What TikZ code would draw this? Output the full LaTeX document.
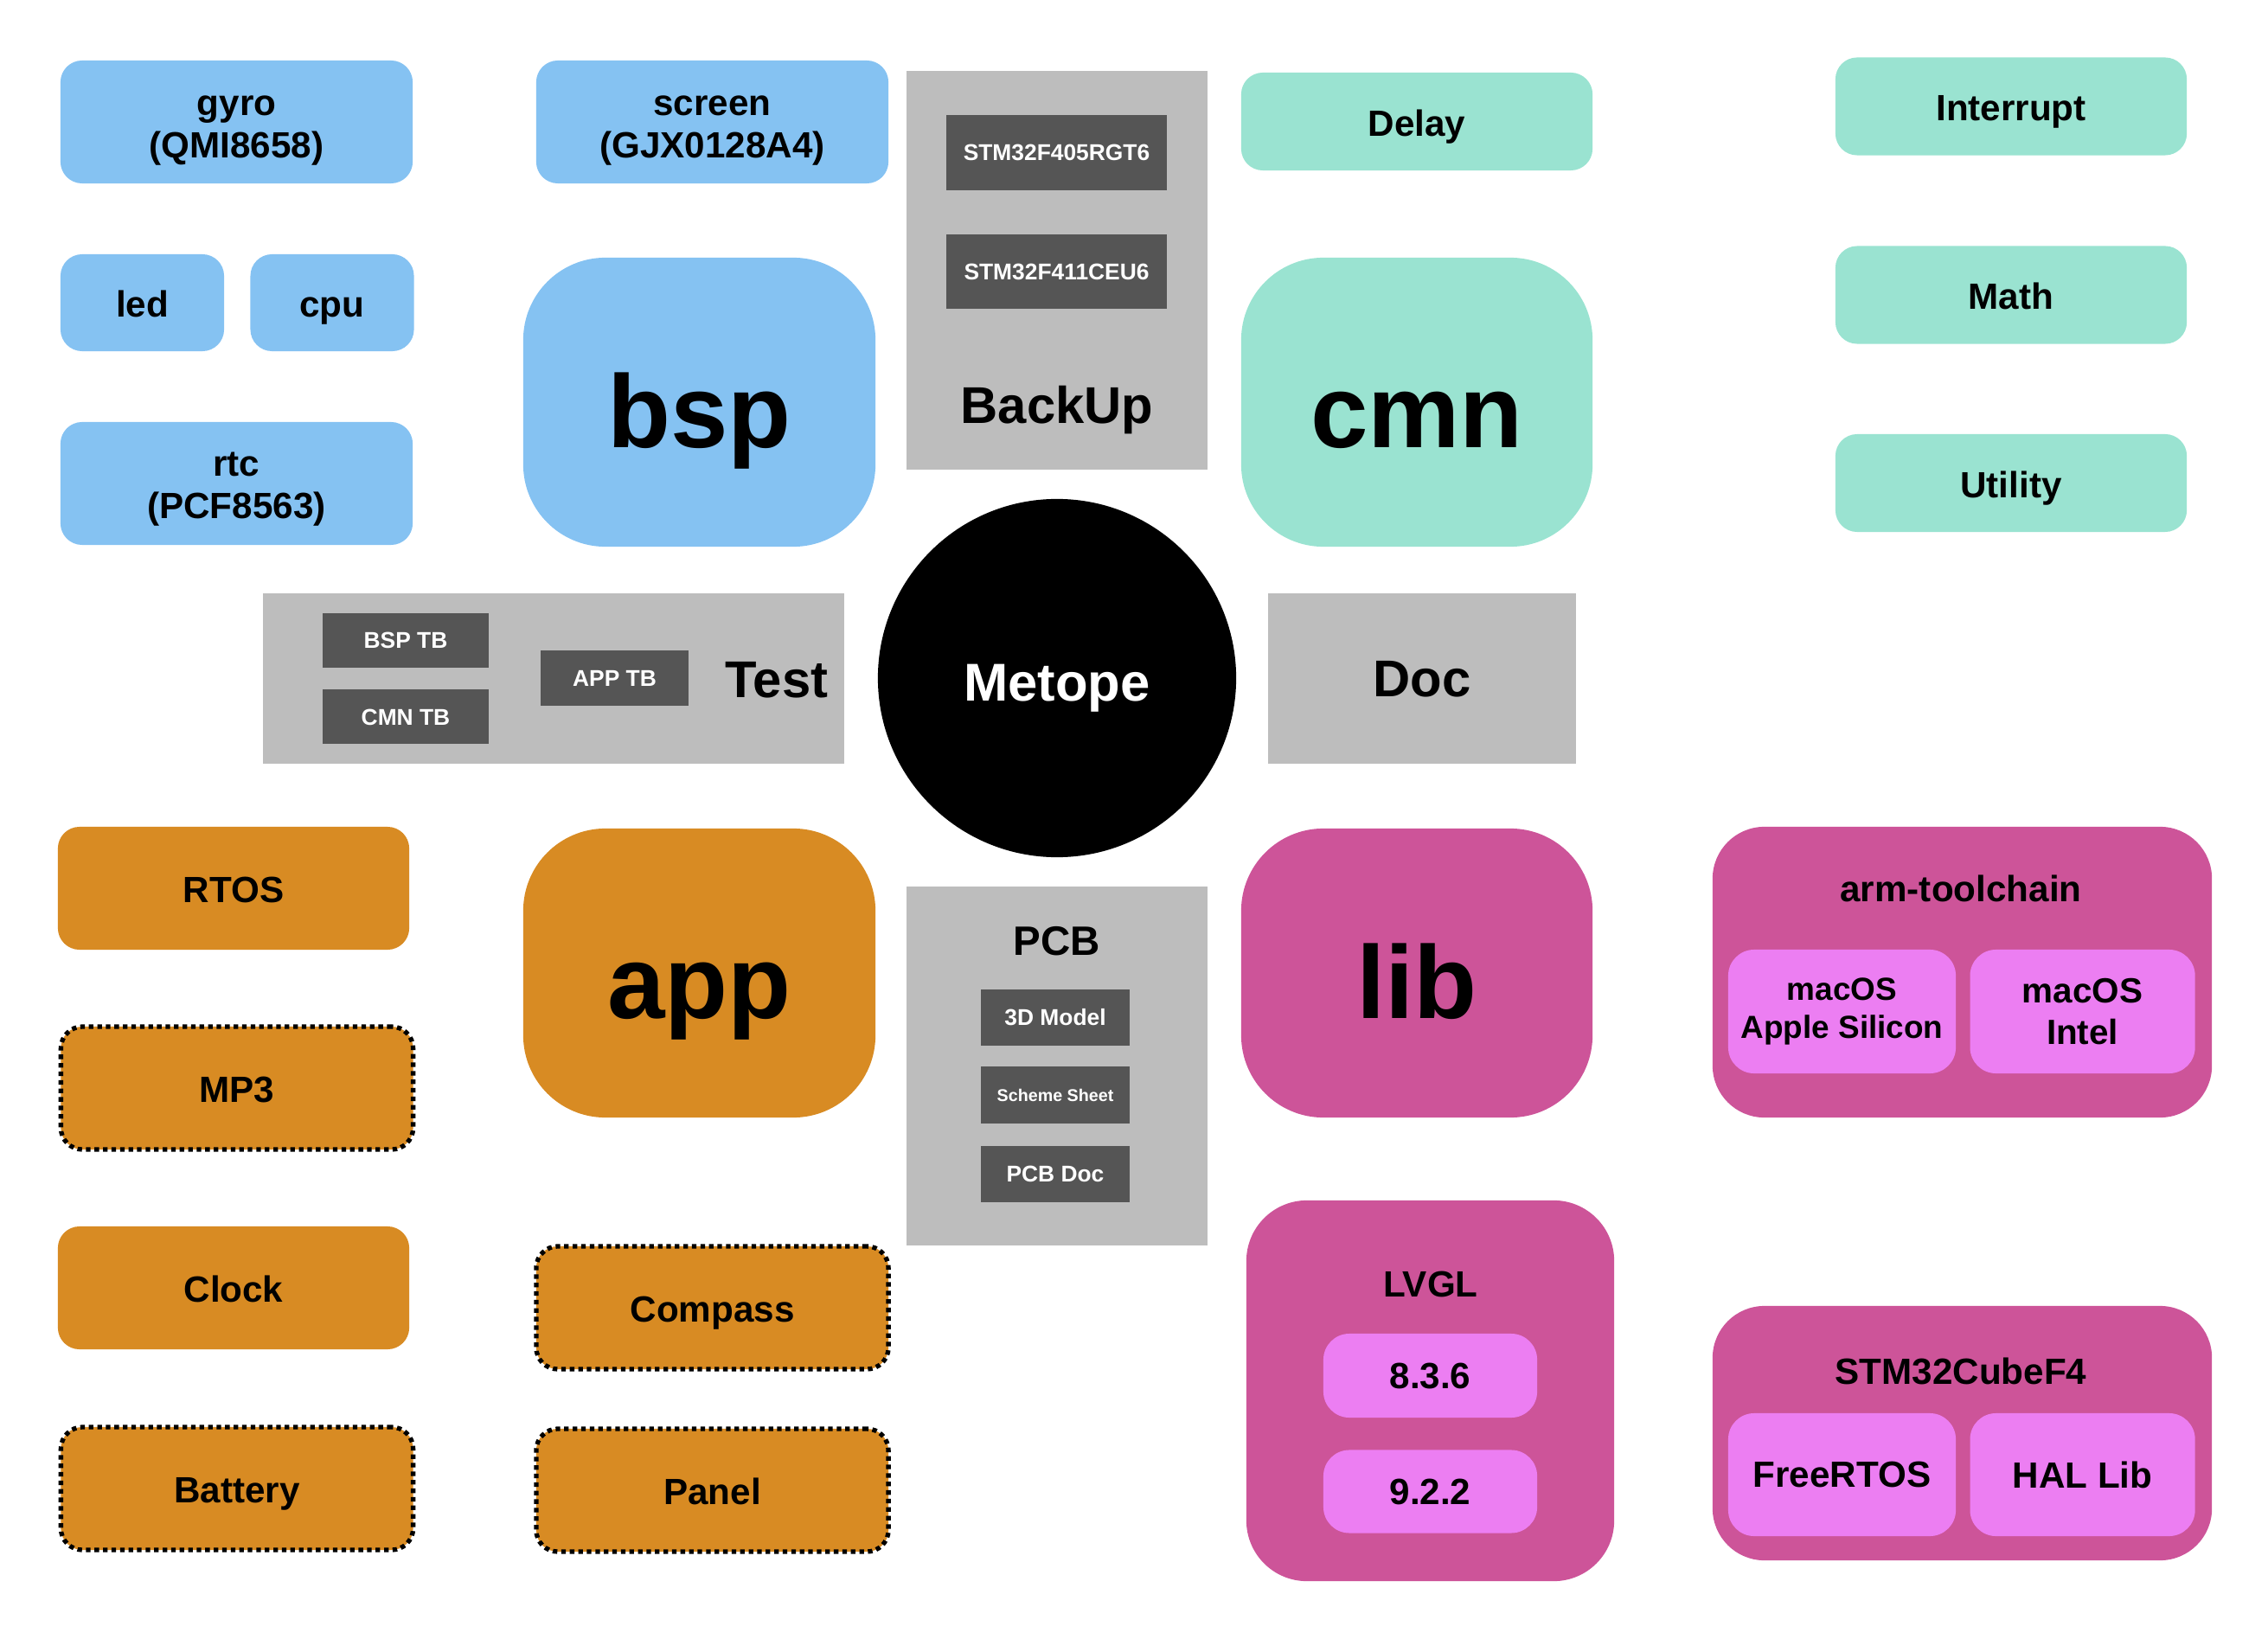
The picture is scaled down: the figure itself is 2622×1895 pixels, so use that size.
\documentclass[tikz,border=0pt]{standalone}
\usepackage{fontspec}
\setmainfont{Liberation Sans}
\usetikzlibrary{shapes,positioning}

\definecolor{bspblue}{HTML}{85C2F2}
\definecolor{cmngreen}{HTML}{9AE3D1}
\definecolor{apporange}{HTML}{D88B23}
\definecolor{libpink}{HTML}{CD5499}
\definecolor{subpink}{HTML}{EC7EF2}
\definecolor{boxgray}{HTML}{BDBDBD}
\definecolor{chipgray}{HTML}{555555}

\tikzset{
  smallbox/.style={rounded corners=0.25cm,minimum width=4.07cm,minimum height=1.42cm,align=center,font=\bfseries\fontsize{12}{14}\selectfont},
  oneline/.style={text height=9.5pt,text depth=0pt},
  bigbox/.style={rounded corners=0.95cm,minimum width=4.07cm,minimum height=3.34cm,text height=30pt,text depth=0pt,font=\bfseries\fontsize{34}{40}\selectfont},
  dotbox/.style={draw=black,line width=1.5pt,dash pattern=on 1.5pt off 1.3pt},
  graypanel/.style={fill=boxgray,inner sep=0pt},
  chipbox/.style={fill=chipgray,text=white,inner sep=1pt,font=\bfseries\fontsize{7.5}{9}\selectfont},
  libgroup/.style={fill=libpink,inner sep=0pt},
  subbox/.style={fill=subpink,rounded corners=0.3cm,align=center,inner sep=1pt,font=\bfseries\fontsize{12}{14}\selectfont},
  paneltext/.style={text depth=0pt,font=\bfseries\fontsize{17}{20}\selectfont}
}

\begin{document}
\begin{tikzpicture}[x=0.01cm,y=-0.01cm]
\useasboundingbox (0,0) rectangle (2622,1895);

\node[smallbox,fill=bspblue](gyro) at (273.5,141) {\rule{0pt}{12pt}gyro\\(QMI8658)};
\node[smallbox,fill=bspblue](screen) at (823.5,141) {\rule{0pt}{12pt}screen\\(GJX0128A4)};
\node[smallbox,oneline,fill=bspblue,minimum width=1.89cm,minimum height=1.12cm](led) at (164.5,350) {led};
\node[smallbox,oneline,fill=bspblue,minimum width=1.89cm,minimum height=1.12cm,right=0.29cm of led](cpu) {cpu};
\node[smallbox,fill=bspblue](rtc) at (273.5,559) {\rule{0pt}{11.5pt}rtc\\(PCF8563)};
\node[bigbox,fill=bspblue](bsp) at (808.5,465) {bsp};

\node[graypanel,minimum width=3.48cm,minimum height=4.61cm](backup) at (1222,312.5) {};
\node[chipbox,minimum width=2.55cm,minimum height=0.86cm](f405) at (1221.5,176.5) {STM32F405RGT6};
\node[chipbox,minimum width=2.55cm,minimum height=0.86cm,below=0.5cm of f405](f411) {STM32F411CEU6};
\node[paneltext](backuplabel) at (1222,468) {BackUp};

\node[smallbox,oneline,fill=cmngreen,minimum width=4.06cm,minimum height=1.13cm](delay) at (1638,140.5) {Delay};
\node[bigbox,fill=cmngreen,minimum width=4.06cm](cmn) at (1638,465) {cmn};
\node[smallbox,oneline,fill=cmngreen,minimum width=4.06cm,minimum height=1.13cm](interrupt) at (2325,123) {Interrupt};
\node[smallbox,oneline,fill=cmngreen,minimum width=4.06cm,minimum height=1.13cm](math) at (2325,341) {Math};
\node[smallbox,oneline,fill=cmngreen,minimum width=4.06cm,minimum height=1.13cm](utility) at (2325,558.5) {Utility};

\node[graypanel,minimum width=6.72cm,minimum height=1.97cm](test) at (640,784.5) {};
\node[chipbox,minimum width=1.92cm,minimum height=0.63cm](bsptb) at (469,740.5) {BSP TB};
\node[chipbox,minimum width=1.92cm,minimum height=0.63cm,below=0.24cm of bsptb](cmntb) {CMN TB};
\node[chipbox,minimum width=1.71cm,minimum height=0.64cm](apptb) at (710.5,784) {APP TB};
\node[paneltext](testlabel) at (898,786) {Test};

\node[circle,fill=black,text=white,minimum size=4.14cm,text height=14.9pt,text depth=0pt,font=\bfseries\fontsize{17.5}{20}\selectfont](metope) at (1222,784) {Metope};

\node[graypanel,paneltext,minimum width=3.56cm,minimum height=1.97cm](doc) at (1644,784.5) {Doc};

\node[smallbox,oneline,fill=apporange,minimum width=4.06cm](rtos) at (270,1027) {RTOS};
\node[smallbox,oneline,fill=apporange,dotbox](mp3) at (274,1258) {MP3};
\node[smallbox,oneline,fill=apporange,minimum width=4.06cm](clock) at (270,1489) {Clock};
\node[smallbox,oneline,fill=apporange,dotbox](battery) at (274,1721) {Battery};
\node[bigbox,fill=apporange](app) at (808.5,1125) {app};
\node[smallbox,oneline,fill=apporange,dotbox](compass) at (823.5,1512) {Compass};
\node[smallbox,oneline,fill=apporange,dotbox](panel) at (823.5,1723) {Panel};

\node[graypanel,minimum width=3.48cm,minimum height=4.15cm](pcb) at (1222,1232.5) {};
\node[font=\bfseries\fontsize{13.5}{16}\selectfont](pcblabel) at (1222,1088) {PCB};
\node[chipbox,minimum width=1.72cm,minimum height=0.65cm](model) at (1220,1176.5) {3D Model};
\node[chipbox,minimum width=1.72cm,minimum height=0.66cm,below=0.23cm of model,font=\bfseries\fontsize{5.6}{7}\selectfont](scheme) {Scheme Sheet};
\node[chipbox,minimum width=1.72cm,minimum height=0.65cm,below=0.24cm of scheme](pcbdoc) {PCB Doc};

\node[bigbox,fill=libpink,minimum width=4.06cm](lib) at (1638,1125) {lib};
\node[libgroup,rounded corners=0.7cm,minimum width=4.25cm,minimum height=4.40cm](lvgl) at (1653.5,1608) {};
\node[font=\bfseries\fontsize{12}{14}\selectfont](lvgllabel) at (1654,1485) {LVGL};
\node[subbox,minimum width=2.47cm,minimum height=0.97cm](lvgla) at (1653.5,1590.5) {8.3.6};
\node[subbox,minimum width=2.47cm,minimum height=0.96cm,below=0.36cm of lvgla](lvglb) {9.2.2};

\node[libgroup,rounded corners=0.6cm,minimum width=5.77cm,minimum height=3.36cm](arm) at (2268.5,1124) {};
\node[font=\bfseries\fontsize{12}{14}\selectfont](armlabel) at (2267,1027) {arm-toolchain};
\node[subbox,minimum width=2.63cm,minimum height=1.43cm,font=\bfseries\fontsize{10.5}{12.5}\selectfont](silicon) at (2129.5,1169.5) {macOS\\Apple Silicon};
\node[subbox,minimum width=2.60cm,minimum height=1.43cm,font=\bfseries\fontsize{11.5}{13.5}\selectfont,right=0.15cm of silicon](intel) {macOS\\Intel};

\node[libgroup,rounded corners=0.6cm,minimum width=5.77cm,minimum height=2.94cm](cube) at (2268.5,1657) {};
\node[font=\bfseries\fontsize{12}{14}\selectfont](cubelabel) at (2267,1585) {STM32CubeF4};
\node[subbox,minimum width=2.63cm,minimum height=1.42cm](freertos) at (2129.5,1705) {FreeRTOS};
\node[subbox,minimum width=2.60cm,minimum height=1.42cm,right=0.15cm of freertos](hal) {HAL Lib};

\end{tikzpicture}
\end{document}
